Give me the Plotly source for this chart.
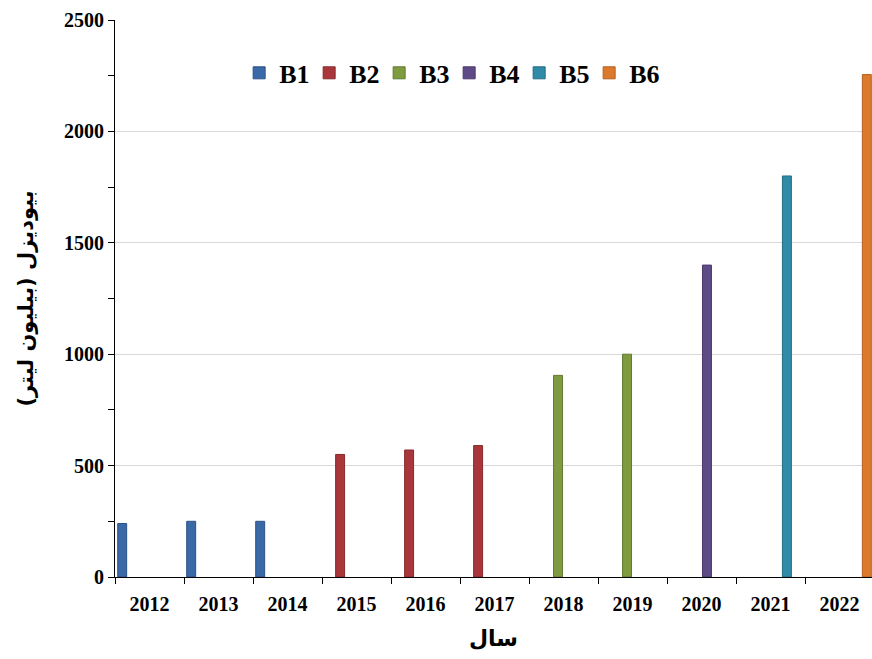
import plotly.graph_objects as go

years = ["2012", "2013", "2014", "2015", "2016", "2017", "2018", "2019", "2020", "2021", "2022"]
series_names = ["B1", "B2", "B3", "B4", "B5", "B6"]
b1_years = ["2012", "2013", "2014"]
b1_vals = [240, 250, 250]
b2_years = ["2015", "2016", "2017"]
b2_vals = [550, 570, 590]
b3_years = ["2018", "2019"]
b3_vals = [905, 1000]
b4_years = ["2020"]
b4_vals = [1400]
b5_years = ["2021"]
b5_vals = [1800]
b6_years = ["2022"]
b6_vals = [2255]
colors = ["#3a69a8", "#a9363a", "#7e9b40", "#5f4a88", "#2f8ba7", "#db7a2c"]
edges = ["#2c5287", "#862a2d", "#627a31", "#4a3a6b", "#236d84", "#b45f1f"]

xs = [b1_years, b2_years, b3_years, b4_years, b5_years, b6_years]
ys = [b1_vals, b2_vals, b3_vals, b4_vals, b5_vals, b6_vals]

serif = "Liberation Serif, Times New Roman, serif"

fig = go.Figure()
for i, (name, x, y, c, e) in enumerate(zip(series_names, xs, ys, colors, edges)):
    fig.add_trace(go.Bar(name=name, x=x, y=y, offsetgroup=str(i),
                         marker=dict(color=c, line=dict(color=e, width=1))))

fig.update_layout(
    width=872, height=659,
    margin=dict(l=115, r=0, t=20, b=82),
    paper_bgcolor="white", plot_bgcolor="white",
    barmode="group", bargap=0.05, bargroupgap=0.18,
    showlegend=True,
    legend=dict(orientation="h", x=0.164, xanchor="left", y=0.905, yanchor="middle",
                font=dict(family=serif, size=26, color="black", weight="bold"),
                entrywidth=25, entrywidthmode="pixels", bgcolor="rgba(0,0,0,0)",
                traceorder="normal"),
    xaxis=dict(type="category", categoryorder="array", categoryarray=years,
               range=[-0.5, 10.471], showline=True, linecolor="black", linewidth=1,
               ticks="outside", tickson="boundaries", ticklen=6, tickcolor="black",
               ticklabelstandoff=9,
               tickfont=dict(family=serif, size=20, color="black", weight="bold"),
               showgrid=False,
               title=dict(text="سال", font=dict(family="DejaVu Sans", size=22, color="black", weight="bold"), standoff=16)),
    yaxis=dict(range=[0, 2500], dtick=500, showline=True, linecolor="black", linewidth=1,
               ticks="outside", ticklen=6, tickcolor="black",
               minor=dict(dtick=250, ticks="outside", ticklen=6, tickcolor="black", showgrid=False),
               showgrid=True, gridcolor="#d9d9d9", gridwidth=1, zeroline=False,
               tickfont=dict(family=serif, size=20, color="black", weight="bold"),
               title=dict(text="بیودیزل (بیلیون لیتر)", font=dict(family="DejaVu Sans", size=21, color="black", weight="bold"), standoff=24)),
)

fig.write_html("out.html")
